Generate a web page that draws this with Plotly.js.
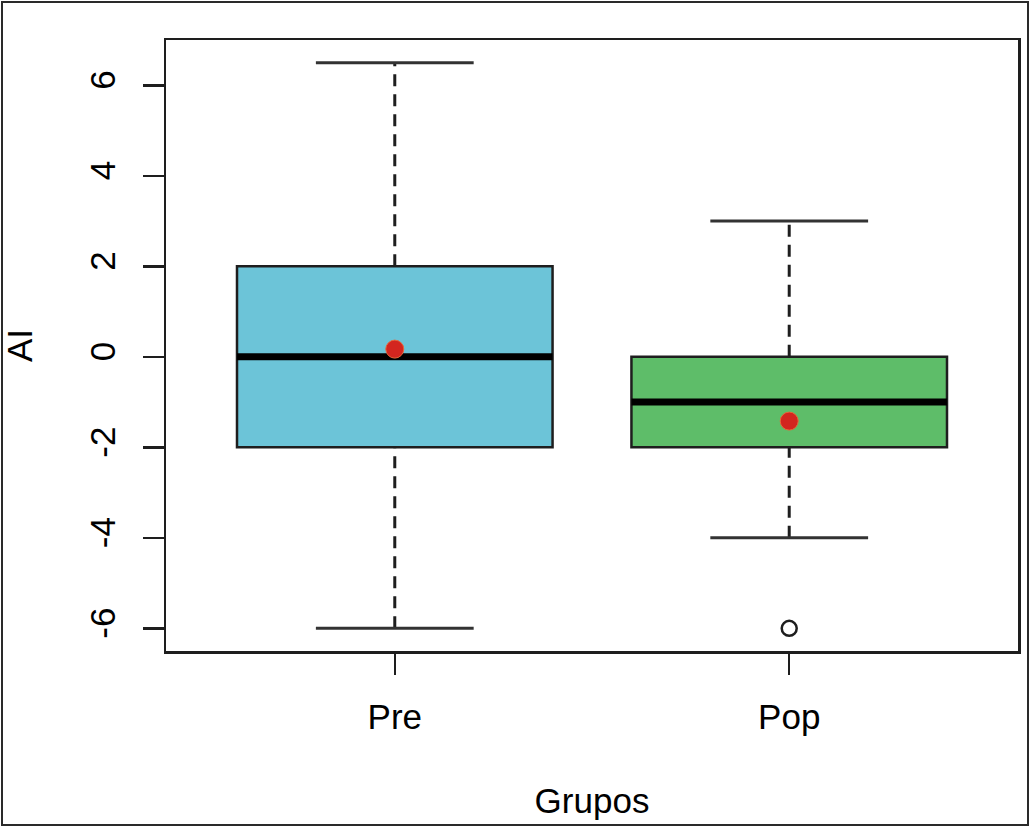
<!DOCTYPE html>
<html><head><meta charset="utf-8">
<script src="https://cdn.plot.ly/plotly-3.0.1.min.js"></script>
<style>
body{margin:0;background:#fff}
#frame{position:absolute;left:1px;top:1px;width:1024px;height:821px;border:2px solid #2a2a2a;pointer-events:none}
</style>
</head><body>
<div id="chart" style="width:1031px;height:827px"></div>
<div id="frame"></div>
<script>
// ---- data ----
const groups = ['Pre', 'Pop'];
const q1 = [-2, -2];
const medians = [0, -1];
const q3 = [2, 0];
const whiskerLow = [-6, -4];
const whiskerHigh = [6.5, 3];
const means = [0.17, -1.42];
const outlierGroups = ['Pop'];
const outlierValues = [-6];
const yTickValues = [-6, -4, -2, 0, 2, 4, 6];
const yTickLabels = ['-6', '-4', '-2', '0', '2', '4', '6'];

// ---- styles ----
const fills = ['#6cc4d8', '#5ebd69'];
const dark = '#1e1e1e';
const boxHalf = 0.4, capHalf = 0.2;
const font = 'Liberation Sans, Arial, Helvetica, sans-serif';

const pos = groups.map((g, i) => i + 1);
const traces = [];

// dashed whiskers
groups.forEach((g, i) => {
  traces.push({
    type: 'scatter', mode: 'lines', hoverinfo: 'skip',
    x: [pos[i], pos[i], null, pos[i], pos[i]],
    y: [whiskerLow[i], q1[i], null, q3[i], whiskerHigh[i]],
    line: {color: dark, width: 3, dash: '12px,8px'}
  });
  traces.push({
    type: 'scatter', mode: 'lines', hoverinfo: 'skip',
    x: [pos[i] - capHalf, pos[i] + capHalf, null, pos[i] - capHalf, pos[i] + capHalf],
    y: [whiskerLow[i], whiskerLow[i], null, whiskerHigh[i], whiskerHigh[i]],
    line: {color: '#333', width: 3}
  });
});

// boxes
groups.forEach((g, i) => {
  traces.push({
    type: 'box', name: g,
    x: [pos[i]], q1: [q1[i]], median: [medians[i]], q3: [q3[i]],
    lowerfence: [q1[i]], upperfence: [q3[i]],
    width: 2 * boxHalf, boxpoints: false,
    fillcolor: fills[i], line: {color: dark, width: 2.5}
  });
});

// thick medians
groups.forEach((g, i) => {
  traces.push({
    type: 'scatter', mode: 'lines', hoverinfo: 'skip',
    x: [pos[i] - boxHalf, pos[i] + boxHalf],
    y: [medians[i], medians[i]],
    line: {color: '#000', width: 7}
  });
});

// means
traces.push({
  type: 'scatter', mode: 'markers',
  x: pos, y: means,
  marker: {color: '#d3261f', size: 18, line: {color: '#e8663a', width: 1}}
});

// outliers
traces.push({
  type: 'scatter', mode: 'markers',
  x: outlierGroups.map(g => pos[groups.indexOf(g)]), y: outlierValues,
  marker: {symbol: 'circle-open', color: dark, size: 15, line: {width: 2.5}}
});

const tf = {size: 35, family: font, color: '#000'};
const layout = {
  width: 1031, height: 827,
  margin: {l: 166, r: 13, t: 40, b: 176},
  paper_bgcolor: '#fff', plot_bgcolor: '#fff',
  showlegend: false,
  font: {family: font, color: '#000', size: 35},
  xaxis: {
    range: [0.42, 2.58], tickvals: pos, ticktext: groups,
    ticks: 'outside', ticklen: 21, tickwidth: 2.5, tickcolor: dark,
    showline: true, mirror: true, linecolor: dark, linewidth: 2.5,
    showgrid: false, zeroline: false, ticklabelstandoff: 12,
    tickfont: tf,
    title: {text: 'Grupos', font: tf, standoff: 54}
  },
  yaxis: {
    range: [-6.5, 7.0], tickvals: yTickValues, ticktext: yTickLabels,
    ticks: 'outside', ticklen: 21, tickwidth: 2.5, tickcolor: dark, tickangle: -90,
    showline: true, mirror: true, linecolor: dark, linewidth: 2.5,
    showgrid: false, zeroline: false, ticklabelstandoff: 14,
    tickfont: tf,
    title: {text: 'AI', font: tf, standoff: 52}
  }
};

Plotly.newPlot('chart', traces, layout, {displayModeBar: false, staticPlot: true});
</script>
</body></html>
